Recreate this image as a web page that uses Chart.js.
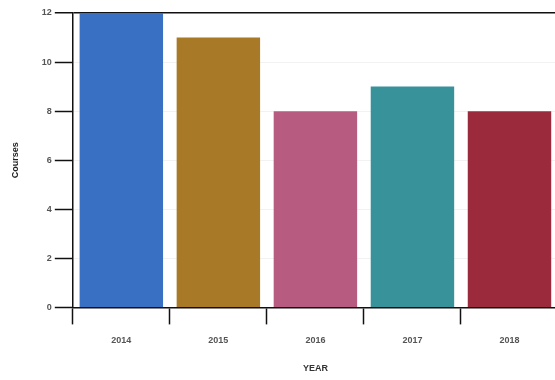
<!DOCTYPE html>
<html>
<head>
<meta charset="utf-8">
<script src="https://cdn.jsdelivr.net/npm/chart.js@4/dist/chart.umd.min.js"></script>
<style>
  html, body { margin: 0; padding: 0; background: #fff; overflow: hidden; }
  .wrap { position: relative; width: 558px; height: 380px; }
</style>
</head>
<body>
<div class="wrap"><canvas id="chart"></canvas></div>
<script>
  const years = ['2014', '2015', '2016', '2017', '2018'];
  const courses = [12, 11, 8, 9, 8];
  const barColors = ['#3a70c4', '#a87a28', '#b75b80', '#37929a', '#9a2a3c'];
  const yTicks = [0, 2, 4, 6, 8, 10, 12];

  const ink = '#111';
  const labelFont = { family: 'Liberation Sans', size: 9, weight: 'bold' };

  const ctx = document.getElementById('chart').getContext('2d');

  // eslint-disable-next-line
  const chart = new Chart(ctx, {
    type: 'bar',
    data: {
      labels: years,
      datasets: [
        {
          label: 'Courses',
          data: courses,
          backgroundColor: barColors,
          borderWidth: 0,
          barPercentage: 0.86,
          categoryPercentage: 1,
        },
      ],
    },
    options: {
      responsive: true,
      maintainAspectRatio: false,
      animation: false,
      layout: { padding: { top: 13, left: 10, right: 0, bottom: 6 } },
      plugins: {
        legend: { display: false },
        tooltip: { enabled: false },
      },
      scales: {
        x: {
          grid: {
            offset: true,
            drawOnChartArea: false,
            tickLength: 17,
            tickColor: ink,
            tickWidth: 1.5,
          },
          border: { color: ink, width: 1.5 },
          ticks: { color: '#555', font: labelFont, padding: 11 },
          title: {
            display: true,
            text: 'YEAR',
            color: '#333',
            font: { family: 'Liberation Sans', size: 9, weight: 'bold' },
            padding: { top: 6, bottom: 0 },
          },
        },
        y: {
          min: 0,
          max: 12,
          afterBuildTicks: function (axis) {
            axis.ticks = yTicks.map(function (v) { return { value: v }; });
          },
          grid: {
            color: function (c) {
              return c.tick && c.tick.value === 12 ? ink : 'rgba(0,0,0,0.05)';
            },
            lineWidth: function (c) {
              return c.tick && c.tick.value === 12 ? 1.5 : 1;
            },
            tickLength: 18,
            tickColor: ink,
            tickWidth: 1.5,
          },
          border: { color: ink, width: 1.5 },
          ticks: { color: '#555', font: labelFont, padding: 3 },
          title: {
            display: true,
            text: 'Courses',
            color: '#222',
            font: { family: 'Liberation Sans', size: 9, weight: 'bold' },
            padding: { top: 0, bottom: 18 },
          },
        },
      },
    },
  });
</script>
</body>
</html>
